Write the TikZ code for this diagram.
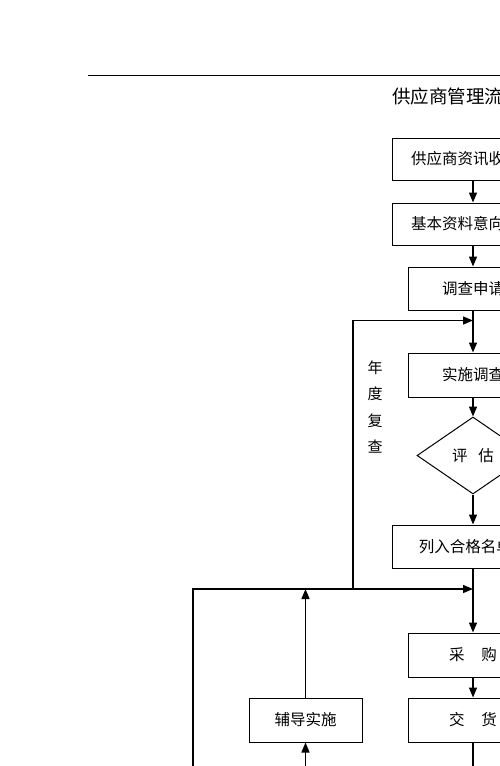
\documentclass[tikz,border=0pt]{standalone}
\usepackage{fontspec}
\setmainfont{Noto Sans CJK SC}
\usetikzlibrary{arrows.meta,shapes.geometric}
\tikzset{
  box/.style={draw, line width=1pt, inner sep=0pt, font=\fontsize{15.5pt}{16pt}\selectfont},
  dia/.style={draw, diamond, line width=1pt, inner sep=0pt, font=\fontsize{15.5pt}{16pt}\selectfont},
  arr/.style={line width=1.4pt, -{Triangle[length=10pt,width=8pt]}},
  ln/.style={line width=1.4pt}
}
\begin{document}
\begin{tikzpicture}[x=1pt,y=-1pt]
\useasboundingbox (0,0) rectangle (500,766);
\clip (0,0) rectangle (500,766);
\coordinate (r1) at (88,75);
\coordinate (r2) at (520,75);
\draw[line width=0.8pt] (r1) -- (r2);
\node[anchor=west, inner sep=0pt, font=\fontsize{18.5pt}{19pt}\selectfont] (title) at (392,96) {供应商管理流程};

\node[box, minimum width=162, minimum height=42] (b1) at (473,159) {供应商资讯收集表};
\node[box, minimum width=162, minimum height=42] (b2) at (473,224) {基本资料意向调查};
\node[box, minimum width=130, minimum height=43] (b3) at (473,288.5) {调查申请};
\node[box, minimum width=130, minimum height=44] (b4) at (473,375) {实施调查};
\node[dia, minimum width=112, minimum height=77] (d) at (473,455.5) {评\hspace{11pt}估};
\node[box, minimum width=162, minimum height=43] (b5) at (473,546.5) {列入合格名单中};
\node[box, minimum width=130, minimum height=44] (b6) at (473,655) {采\hspace{17pt}购};
\node[box, minimum width=130, minimum height=44] (b7) at (473,720) {交\hspace{17pt}货};
\node[box, minimum width=113, minimum height=44] (b8) at (305.5,720) {辅导实施};
\node[align=center, font=\fontsize{15pt}{26.5pt}\selectfont] (yr) at (375,407) {年\\度\\复\\查};

\coordinate (j1) at (473,589);
\coordinate (j2) at (473,320.5);
\coordinate (L1) at (353,589);
\coordinate (L2) at (353,320.5);
\coordinate (F) at (193,790);
\coordinate (G) at (305.5,790);
\coordinate (H) at (473,790);

\draw[arr] (b1.south) -- (b2.north);
\draw[arr] (b2.south) -- (b3.north);
\draw[arr] (b3.south) -- (b4.north);
\draw[arr] (b4.south) -- (d.north);
\draw[arr] (d.south) -- (b5.north);
\draw[arr] (b5.south) -- (b6.north);
\draw[arr] (b6.south) -- (b7.north);
\draw[ln] (b7.south) -- (H);
\draw[arr] (L1) -- (L2) -- (j2);
\draw[arr] (F) |- (j1);
\draw[arr] (b8.north) -- (b8.north |- j1);
\draw[arr] (G) -- (b8.south);
\end{tikzpicture}
\end{document}
